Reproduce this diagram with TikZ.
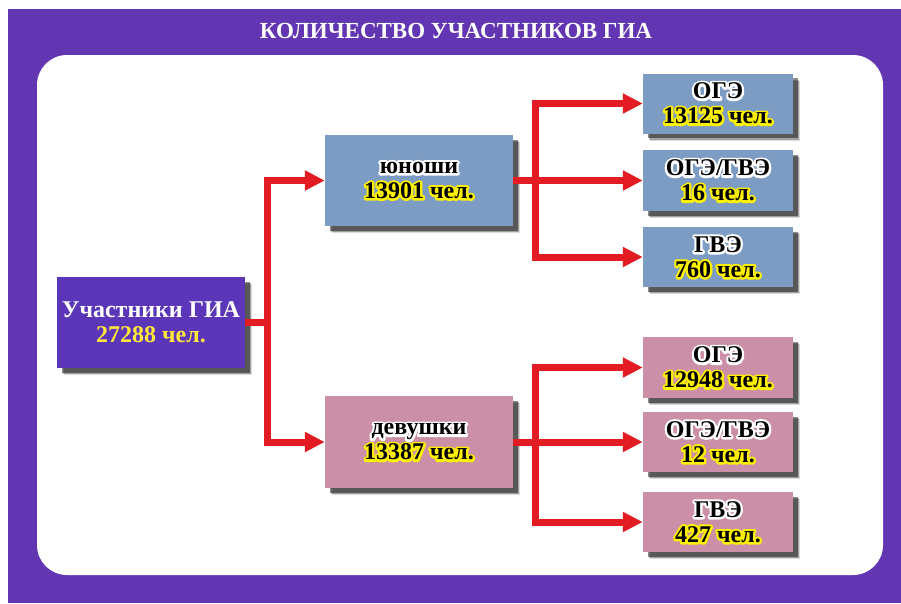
\documentclass[tikz,border=0pt]{standalone}
\usepackage{fontspec}
\setmainfont{Liberation Serif}
\usetikzlibrary{arrows.meta,shadows}
\definecolor{band}{HTML}{6236B2}
\definecolor{mainbox}{HTML}{5B36B8}
\definecolor{bluebox}{HTML}{7C9CC4}
\definecolor{pinkbox}{HTML}{CB8FA7}
\definecolor{arrred}{HTML}{E31B23}
\definecolor{halo}{HTML}{FFF200}
\definecolor{numyellow}{HTML}{FFE83A}
\newcommand\glow[2]{%
  \leavevmode
  \rlap{\color{#1}\special{pdf:literal 2 Tr 4.5 w 1 j 1 J}#2\special{pdf:literal 0 Tr 1 w 0 j 0 J}}%
  {\color{black}#2}}
\tikzset{
  box/.style={rectangle, inner sep=0pt, align=center,
    font=\bfseries\fontsize{24}{25}\selectfont,
    drop shadow={shadow xshift=7pt, shadow yshift=-7pt, fill=black, opacity=0.15},
    drop shadow={shadow xshift=6pt, shadow yshift=-6pt, fill=black, opacity=0.25},
    drop shadow={shadow xshift=4.5pt, shadow yshift=-4.5pt, fill=black, opacity=0.45}},
  bigbox/.style={box, minimum width=188pt, minimum height=91pt},
  smallbox/.style={box, minimum width=150pt, minimum height=60pt},
  arr/.style={draw=arrred, line width=7pt, -{Triangle[length=20pt,width=19pt]}},
  link/.style={draw=arrred, line width=7pt}
}
\begin{document}
\begin{tikzpicture}[x=1pt,y=-1pt]
\useasboundingbox (0,0) rectangle (901,603);
\fill[white] (0,0) rectangle (901,603);
\fill[band] (8,9) rectangle (901,603);
\fill[white, rounded corners=30pt] (37,55) rectangle (883,575);
\node[text=white, font=\bfseries\fontsize{23}{25}\selectfont] (title) at (456,31) {КОЛИЧЕСТВО УЧАСТНИКОВ ГИА};

\node[bigbox, fill=mainbox] (main) at (151,322.5) {\textcolor{white}{Участники ГИА}\\\textcolor{numyellow}{27288 чел.}};
\node[bigbox, fill=bluebox] (boy) at (419,180.5) {\glow{white}{юноши}\\\glow{halo}{13901 чел.}};
\node[bigbox, fill=pinkbox, minimum height=92pt] (girl) at (419,442) {\glow{white}{девушки}\\\glow{halo}{13387 чел.}};

\node[smallbox, fill=bluebox] (r1) at (718,103.5) {\glow{white}{ОГЭ}\\\glow{halo}{13125 чел.}};
\node[smallbox, fill=bluebox, minimum height=61pt] (r2) at (718,180.5) {\glow{white}{ОГЭ/ГВЭ}\\\glow{halo}{16 чел.}};
\node[smallbox, fill=bluebox] (r3) at (718,257) {\glow{white}{ГВЭ}\\\glow{halo}{760 чел.}};
\node[smallbox, fill=pinkbox, minimum height=61pt] (r4) at (718,367.5) {\glow{white}{ОГЭ}\\\glow{halo}{12948 чел.}};
\node[smallbox, fill=pinkbox] (r5) at (718,442) {\glow{white}{ОГЭ/ГВЭ}\\\glow{halo}{12 чел.}};
\node[smallbox, fill=pinkbox] (r6) at (718,522) {\glow{white}{ГВЭ}\\\glow{halo}{427 чел.}};

\coordinate (t0) at (267,322.5);
\coordinate (tb) at (535,180.5);
\coordinate (tg) at (535,442);

\draw[link] (main.east) -- (t0);
\draw[arr] (t0) |- (boy.west);
\draw[arr] (t0) |- (girl.west);

\draw[link] (boy.east) -- (tb);
\draw[arr] (tb) |- (r1.west);
\draw[arr] (tb) -- (r2.west);
\draw[arr] (tb) |- (r3.west);

\draw[link] (girl.east) -- (tg);
\draw[arr] (tg) |- (r4.west);
\draw[arr] (tg) -- (r5.west);
\draw[arr] (tg) |- (r6.west);
\end{tikzpicture}
\end{document}
